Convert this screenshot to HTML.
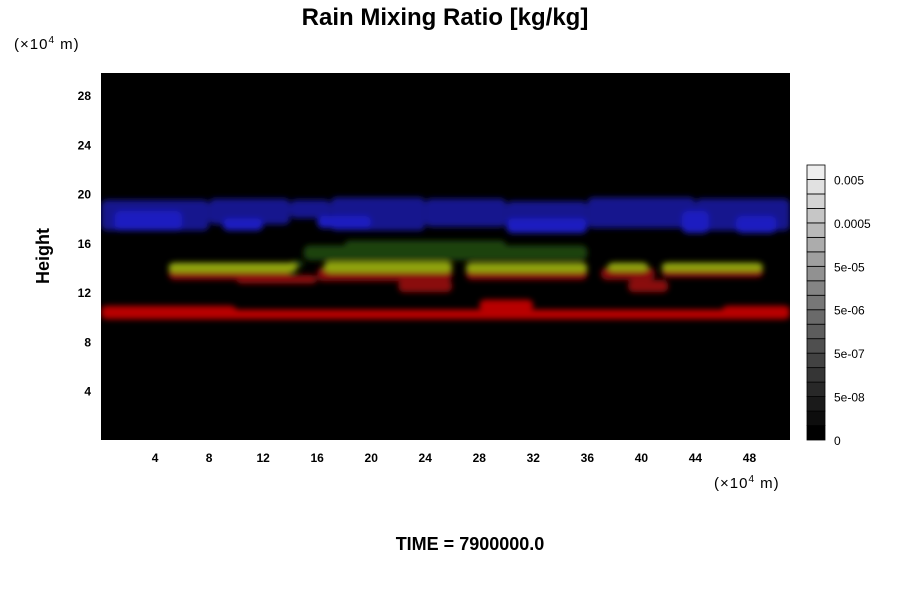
<!DOCTYPE html>
<html><head><meta charset="utf-8"><style>
body{margin:0;background:#fff;font-family:"Liberation Sans",sans-serif}
svg text{font-family:"Liberation Sans",sans-serif}
</style></head><body>
<svg id="c" width="900" height="600">
<defs>
<filter id="b" x="-20%" y="-50%" width="140%" height="200%"><feGaussianBlur stdDeviation="3"/></filter>
<clipPath id="pc"><rect x="101" y="73" width="689" height="367"/></clipPath>
</defs>
<text x="445" y="25" text-anchor="middle" font-size="24" font-weight="bold">Rain Mixing Ratio [kg/kg]</text>
<text x="14" y="49" font-size="15" letter-spacing="1">(×10<tspan dy="-6" font-size="10">4</tspan><tspan dy="6"> m)</tspan></text>
<text x="714" y="488" font-size="15" letter-spacing="1">(×10<tspan dy="-6" font-size="10">4</tspan><tspan dy="6"> m)</tspan></text>
<text x="49" y="256" font-size="18" font-weight="bold" text-anchor="middle" transform="rotate(-90 49 256)">Height</text>
<text x="470" y="550" font-size="18" font-weight="bold" text-anchor="middle">TIME = 7900000.0</text>
<rect x="101" y="73" width="689" height="367" fill="#000"/>
<g id="marks" clip-path="url(#pc)" filter="url(#b)"></g>
<g id="axes"></g>
<g id="cbar"></g>
</svg>
<script>
const xTicks=[4,8,12,16,20,24,28,32,36,40,44,48];
const yTicks=[4,8,12,16,20,24,28];
// blobs: [x0, x1, y0, y1] in data units (x 1e4 m, height 1e4 m)
const blueBand=[[0,8,17,19.5],[8,14,17.5,19.6],[14,17,18,19.5],[17,24,17,19.7],[24,30,17.3,19.6],[30,36,16.9,19.4],[36,44,17.2,19.7],[44,51,17,19.6]];
const blueDeep=[[1,6,17,18.6],[9,12,17,18],[16,20,17.2,18.2],[30,36,16.8,18],[43,45,16.8,18.6],[47,50,16.8,18.2]];
const redLow=[[0,51,9.8,10.6],[0,10,10.3,10.9],[28,32,10.5,11.4],[46,51,10.3,10.9]];
const redMid=[[5,14,13,14],[10,16,12.7,13.4],[16,26,12.9,14],[22,26,12,13],[27,36,13,14],[37,41,13,14],[39,42,12,13],[41.5,49,13.2,14]];
const greenTop=[[15,36,14.6,15.8],[18,30,15,16.2],[14,15,14,14.6]];
const yellowBand=[[5,14.5,13.6,14.4],[16.5,26,13.6,14.5],[27,36,13.6,14.4],[37.5,40.5,13.7,14.4],[41.5,49,13.7,14.4]];
const cbLabels=["0","5e-08","5e-07","5e-06","5e-05","0.0005","0.005"];
const cbSteps=19;
const X0=101,X1=790,Y0=440,Y1=73,XMAX=51,YMAX=29.8;
const sx=v=>X0+v/XMAX*(X1-X0), sy=v=>Y0-v/YMAX*(Y0-Y1);
const NS="http://www.w3.org/2000/svg";
const mk=(t,a,p)=>{const e=document.createElementNS(NS,t);for(const k in a)e.setAttribute(k,a[k]);p.appendChild(e);return e;};
const marks=document.getElementById('marks');
function draw(arr,color,name){arr.forEach(b=>{const r=mk('rect',{x:sx(b[0]),y:sy(b[3]),width:sx(b[1])-sx(b[0]),height:sy(b[2])-sy(b[3]),fill:color,rx:6},marks);

});}
draw(blueBand,'#12128e','blue-band-blob');
draw(blueDeep,'#1a1ac0','blue-core-blob');
draw(redLow,'#b80606','red-low-band-blob');
draw(redMid,'#8a0a0a','red-mid-band-blob');
draw(greenTop,'#1c4210','green-band-blob');
draw(yellowBand,'#90a410','yellow-band-blob');
const ax=document.getElementById('axes');
xTicks.forEach(v=>{mk('line',{x1:sx(v),x2:sx(v),y1:440,y2:436,stroke:'#000'},ax);
const t=mk('text',{x:sx(v),y:462,'font-size':12,'font-weight':'bold','text-anchor':'middle'},ax);t.textContent=v;

});
yTicks.forEach(v=>{mk('line',{x1:101,x2:105,y1:sy(v),y2:sy(v),stroke:'#000'},ax);
const t=mk('text',{x:91,y:sy(v)+5,'font-size':12,'font-weight':'bold','text-anchor':'end'},ax);t.textContent=v;

});
const cb=document.getElementById('cbar');
const cbTop=165,cbBot=440,h=(cbBot-cbTop)/cbSteps;
for(let i=0;i<cbSteps;i++){const g=Math.round(i/(cbSteps-1)*238);
const r=mk('rect',{x:807,y:cbBot-(i+1)*h,width:18,height:h,fill:`rgb(${g},${g},${g})`,stroke:'#000','stroke-width':0.8},cb);

}
cbLabels.forEach((l,i)=>{const t=mk('text',{x:834,y:cbBot-i*3*h+5,'font-size':12},cb);t.textContent=l;

});
</script>
</body></html>
